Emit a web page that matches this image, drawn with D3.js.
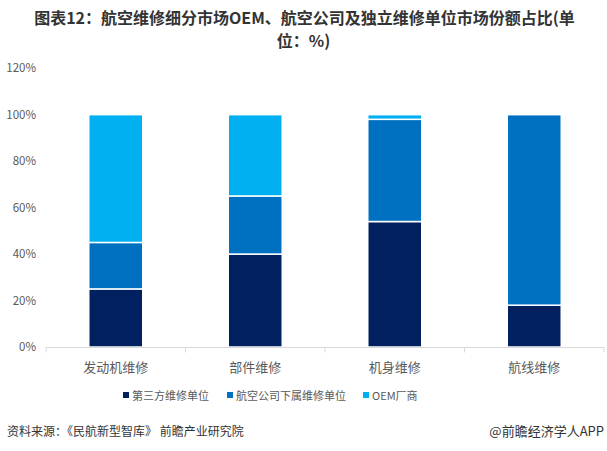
<!DOCTYPE html>
<html><head><meta charset="utf-8">
<script src="https://cdn.jsdelivr.net/npm/d3@7/dist/d3.min.js"></script>
<style>body{margin:0;background:#fff;} svg{display:block;}</style>
</head><body>
<svg id="c" width="607" height="451"></svg>
<script>
const categories = ["发动机维修", "部件维修", "机身维修", "航线维修"];
const seriesNames = ["第三方维修单位", "航空公司下属维修单位", "OEM厂商"];
const thirdParty = [25, 40, 54, 18];
const airline = [20, 25, 44, 82];
const oem = [55, 35, 2, 0];
const yTicks = [0, 20, 40, 60, 80, 100, 120];
const colors = ["#002060", "#0070C0", "#00B0F0"];
const titleLines = ["图表12：航空维修细分市场OEM、航空公司及独立维修单位市场份额占比(单", "位：%)"];

const svg = d3.select("#c");
const font = "'Noto Sans CJK SC', 'Microsoft YaHei', sans-serif";
const W = 607, H = 451;

const title = svg.append("text").attr("text-anchor", "middle")
  .attr("font-family", font).attr("font-weight", "bold").attr("font-size", 16).attr("fill", "#333");
title.selectAll("tspan").data(titleLines).join("tspan")
  .attr("x", (d, i) => i === 0 ? W/2 + 1 : W/2).attr("y", (d, i) => 24 + i * 23).text(d => d);

const x = d3.scaleBand().domain(categories).range([46, 604]).paddingInner(0.613).paddingOuter(0.3065);
const y = d3.scaleLinear().domain([0, 120]).range([347, 68.2]);

// y axis labels
svg.append("g").selectAll("text").data(yTicks).join("text")
  .attr("x", 36).attr("y", d => y(d) + 4).attr("text-anchor", "end")
  .attr("font-family", font).attr("font-size", 11.5).attr("fill", "#595959")
  .text(d => d + "%");

const data = categories.map((c, i) => ({cat: c, s0: thirdParty[i], s1: airline[i], s2: oem[i]}));
const stack = d3.stack().keys(["s0", "s1", "s2"])(data);

svg.append("g").selectAll("g").data(stack).join("g")
  .attr("fill", (d, i) => colors[i])
  .selectAll("rect").data(d => d).join("rect")
  .attr("x", d => x(d.data.cat))
  .attr("width", x.bandwidth())
  .attr("y", d => y(d[1]))
  .attr("height", d => Math.max(0, y(d[0]) - y(d[1])))
  .attr("stroke", "#fff").attr("stroke-width", d => (d[1] - d[0]) > 0 ? 1.5 : 0);

// x axis
const gx = svg.append("g").attr("transform", "translate(0,347.5)");
gx.append("line").attr("x1", 46).attr("x2", 604).attr("stroke", "#d9d9d9");
const step = x.step();
const bounds = d3.range(categories.length + 1).map(i => 46 + i * step);
gx.selectAll("line.tk").data(bounds).join("line").attr("class", "tk")
  .attr("x1", d => d).attr("x2", d => d).attr("y1", 0).attr("y2", 5).attr("stroke", "#d9d9d9");
gx.selectAll("text").data(categories).join("text")
  .attr("x", d => x(d) + x.bandwidth()/2).attr("y", 24).attr("text-anchor", "middle")
  .attr("font-family", font).attr("font-size", 13).attr("fill", "#595959").text(d => d);

// legend
const legendX = [123, 227, 363];
const lg = svg.append("g");
seriesNames.forEach((n, i) => {
  lg.append("rect").attr("x", legendX[i]).attr("y", 392).attr("width", 6).attr("height", 6).attr("fill", colors[i]);
  lg.append("text").attr("x", legendX[i] + 9).attr("y", 399.5)
    .attr("font-family", font).attr("font-size", 11).attr("fill", "#595959").text(n);
});

// footer
svg.append("text").attr("x", 7).attr("y", 436).attr("font-family", font).attr("font-size", 12).attr("fill", "#333")
  .text("资料来源：《民航新型智库》 前瞻产业研究院");
svg.append("text").attr("x", 604).attr("y", 436).attr("text-anchor", "end").attr("font-family", font).attr("font-size", 13).attr("fill", "#333")
  .text("@前瞻经济学人APP");
</script>
</body></html>
